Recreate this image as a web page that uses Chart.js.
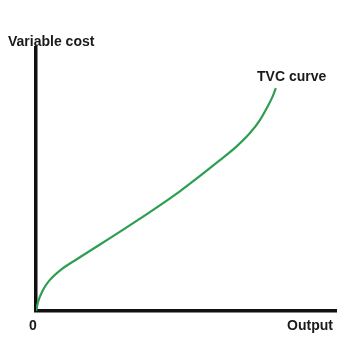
<!DOCTYPE html>
<html>
<head>
<meta charset="utf-8">
<script src="https://cdn.jsdelivr.net/npm/chart.js@4"></script>
<style>
html,body{margin:0;padding:0;background:#fff;}
#wrap{width:347px;height:339px;position:relative;}
</style>
</head>
<body>
<div id="wrap"><canvas id="c" width="347" height="339"></canvas></div>
<script>
const outputValues = [0, 2, 7, 13, 26, 43, 93, 143, 183, 200, 213, 223, 231, 236, 239];
const costValues   = [0, 9, 21, 30, 42, 53, 85, 119, 150, 164, 177, 190, 204, 214, 222];
const yAxisLabel = "Variable cost";
const xAxisLabel = "Output";
const originLabel = "0";
const curveLabel = "TVC curve";

const points = outputValues.map((x, i) => ({x: x, y: costValues[i]}));

const labelPlugin = {
  id: 'labels',
  afterDraw(chart) {
    const ctx = chart.ctx;
    ctx.save();
    ctx.fillStyle = '#1a1a1a';
    ctx.font = 'bold 14px "Liberation Sans", Arial, sans-serif';
    ctx.textBaseline = 'middle';
    ctx.textAlign = 'left';
    ctx.fillText(yAxisLabel, 8, 42);
    ctx.fillText(curveLabel, 257, 77);
    ctx.textAlign = 'center';
    ctx.fillText(originLabel, 33, 326);
    ctx.fillText(xAxisLabel, 310, 326);
    ctx.restore();
  }
};

new Chart(document.getElementById('c'), {
  type: 'line',
  data: {
    datasets: [{
      data: points,
      borderColor: '#2e9e52',
      borderWidth: 2.2,
      pointRadius: 0,
      fill: false,
      cubicInterpolationMode: 'monotone'
    }]
  },
  options: {
    responsive: false,
    animation: false,
    events: [],
    layout: {padding: {left: 36, top: 48, right: 11, bottom: 28}},
    plugins: {legend: {display: false}, tooltip: {enabled: false}},
    scales: {
      x: {
        type: 'linear', min: 0, max: 299,
        grid: {display: false, drawTicks: false},
        ticks: {display: false},
        border: {display: true, color: '#111', width: 3.5}
      },
      y: {
        type: 'linear', min: 0, max: 262,
        grid: {display: false, drawTicks: false},
        ticks: {display: false},
        border: {display: true, color: '#111', width: 3.5}
      }
    }
  },
  plugins: [labelPlugin]
});
</script>
</body>
</html>
